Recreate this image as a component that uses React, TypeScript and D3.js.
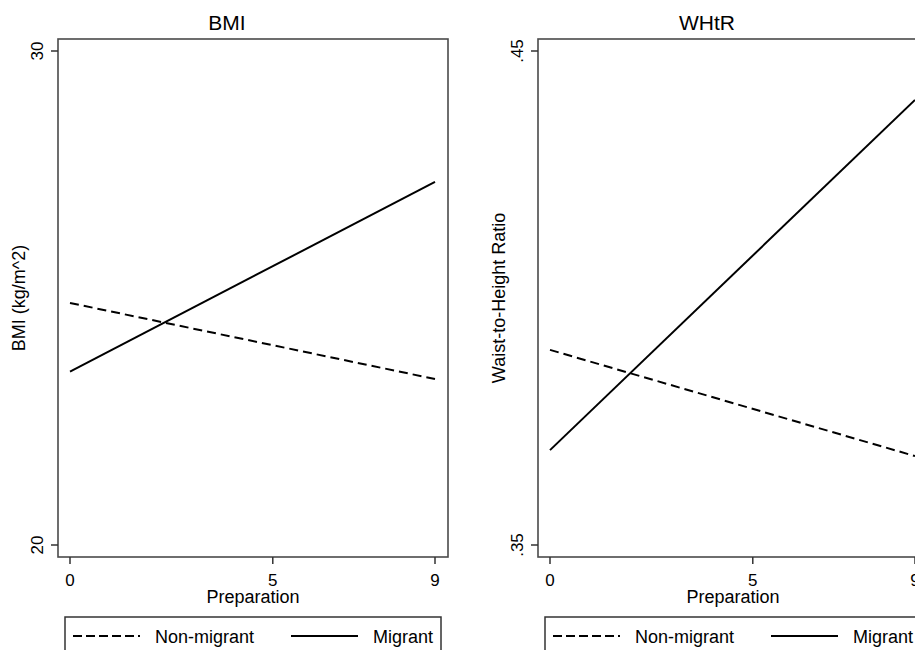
import React, { useEffect, useRef } from 'react';
import * as d3 from 'd3';

// predicted values at the two ends of "Preparation"
const preparation = [0, 9];
const xTicks = [0, 5, 9];

const bmiNonMigrant = [24.9, 23.36];
const bmiMigrant = [23.51, 27.35];
const bmiTicks = [20, 30];

const whtrNonMigrant = [0.3895, 0.368];
const whtrMigrant = [0.3692, 0.4401];
const whtrTicks = [0.35, 0.45];

const seriesNames = ['Non-migrant', 'Migrant'];

const FONT = '"Liberation Sans", Arial, Helvetica, sans-serif';

const App = () => {
    const svgRef = useRef<SVGSVGElement>(null);

    useEffect(() => {
        const svg = d3.select(svgRef.current);
        svg.selectAll('*').remove();

        svg.append('rect')
            .attr('width', 915)
            .attr('height', 650)
            .attr('fill', '#fff');

        drawPanel(svg, 0, 'BMI', 'BMI (kg/m^2)', [20, 30], bmiTicks, d => String(d), bmiNonMigrant, bmiMigrant);
        drawPanel(svg, 480, 'WHtR', 'Waist-to-Height Ratio', [0.35, 0.45], whtrTicks,
            d => d3.format('.2f')(d).replace(/^0/, ''), whtrNonMigrant, whtrMigrant);
    }, []);

    const drawPanel = (svg, offset, title, yTitle, yDomain, yTicks, yFmt, nonMig, mig) => {
        const box = { left: 58, right: 448, top: 39, bottom: 557 };
        const g = svg.append('g').attr('transform', `translate(${offset},0)`);

        const x = d3.scaleLinear().domain([0, 9]).range([box.left + 12, box.right - 13]);
        const y = d3.scaleLinear().domain(yDomain).range([box.bottom - 12, box.top + 12]);

        // titulo
        g.append('text')
            .attr('x', 227)
            .attr('y', 30)
            .attr('text-anchor', 'middle')
            .style('font-family', FONT)
            .style('font-size', '21px')
            .text(title);

        // marco del area de trazado
        g.append('rect')
            .attr('x', box.left)
            .attr('y', box.top)
            .attr('width', box.right - box.left)
            .attr('height', box.bottom - box.top)
            .attr('fill', 'none')
            .attr('stroke', '#4a4a4a')
            .attr('stroke-width', 1.6);

        // eje y
        yTicks.forEach(t => {
            g.append('line')
                .attr('x1', box.left - 7).attr('x2', box.left)
                .attr('y1', y(t)).attr('y2', y(t))
                .attr('stroke', '#333').attr('stroke-width', 1.5);
            g.append('text')
                .attr('transform', `translate(${box.left - 15},${y(t)}) rotate(-90)`)
                .attr('text-anchor', 'middle')
                .style('font-family', FONT)
                .style('font-size', '17px')
                .text(yFmt(t));
        });

        g.append('text')
            .attr('transform', `translate(25,${(box.top + box.bottom) / 2}) rotate(-90)`)
            .attr('text-anchor', 'middle')
            .style('font-family', FONT)
            .style('font-size', '18px')
            .text(yTitle);

        // eje x
        xTicks.forEach(t => {
            g.append('line')
                .attr('x1', x(t)).attr('x2', x(t))
                .attr('y1', box.bottom).attr('y2', box.bottom + 7)
                .attr('stroke', '#333').attr('stroke-width', 1.5);
            g.append('text')
                .attr('x', x(t))
                .attr('y', 586)
                .attr('text-anchor', 'middle')
                .style('font-family', FONT)
                .style('font-size', '17px')
                .text(t);
        });

        g.append('text')
            .attr('x', (box.left + box.right) / 2)
            .attr('y', 603)
            .attr('text-anchor', 'middle')
            .style('font-family', FONT)
            .style('font-size', '18px')
            .text('Preparation');

        // lineas
        const line = d3.line<number>()
            .x((d, i) => x(preparation[i]))
            .y(d => y(d));

        g.append('path')
            .datum(nonMig)
            .attr('d', line)
            .attr('fill', 'none')
            .attr('stroke', '#000')
            .attr('stroke-width', 2)
            .attr('stroke-dasharray', '9,5');

        g.append('path')
            .datum(mig)
            .attr('d', line)
            .attr('fill', 'none')
            .attr('stroke', '#000')
            .attr('stroke-width', 2);

        // leyenda
        const lg = g.append('g').attr('transform', 'translate(65,617)');
        lg.append('rect')
            .attr('width', 376)
            .attr('height', 50)
            .attr('fill', '#fff')
            .attr('stroke', '#333')
            .attr('stroke-width', 1.5);

        const items = [
            { name: seriesNames[0], x0: 8, x1: 75, dash: '9,4' },
            { name: seriesNames[1], x0: 226, x1: 293, dash: null },
        ];
        items.forEach(it => {
            lg.append('line')
                .attr('x1', it.x0).attr('x2', it.x1)
                .attr('y1', 19).attr('y2', 19)
                .attr('stroke', '#000')
                .attr('stroke-width', 2)
                .attr('stroke-dasharray', it.dash);
            lg.append('text')
                .attr('x', it.x1 + 15)
                .attr('y', 26)
                .style('font-family', FONT)
                .style('font-size', '18px')
                .text(it.name);
        });
    };

    return (
        <svg ref={svgRef} width={915} height={650}
            style={{ position: 'absolute', left: 0, top: 0, display: 'block' }}></svg>
    );
};

export default App;
